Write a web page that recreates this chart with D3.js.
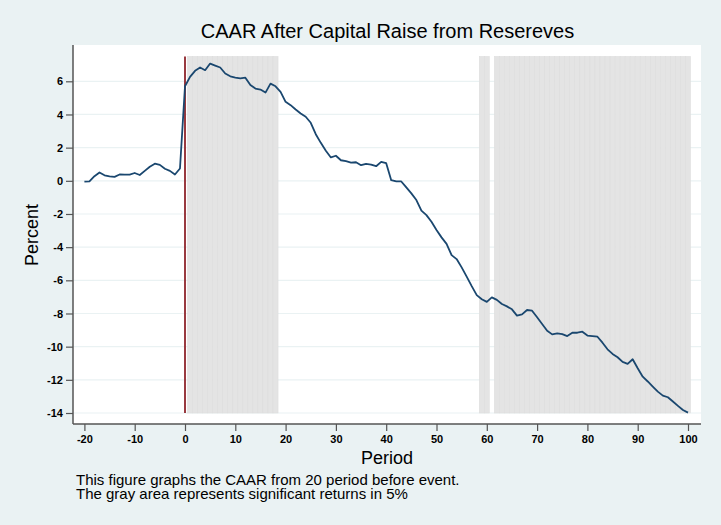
<!DOCTYPE html>
<html>
<head>
<meta charset="utf-8">
<script src="https://cdn.jsdelivr.net/npm/d3@7"></script>
<style>
  body { margin: 0; background: #eaf2f3; }
  text { font-family: Arial, "Liberation Sans", sans-serif; fill: #000; }
</style>
</head>
<body>
<div id="chart"></div>
<script>
// periods and CAAR values (percent)
var periods = d3.range(-20, 101);
var caar = [
  -0.05, -0.03, 0.28, 0.5, 0.33, 0.27, 0.24, 0.38, 0.37, 0.37,
  0.47, 0.35, 0.6, 0.85, 1.03, 0.96, 0.73, 0.6, 0.38, 0.74,
  5.7, 6.27, 6.63, 6.83, 6.67, 7.07, 6.95, 6.83, 6.47, 6.3,
  6.22, 6.18, 6.22, 5.78, 5.56, 5.5, 5.32, 5.86, 5.7, 5.36,
  4.76, 4.56, 4.3, 4.06, 3.86, 3.5, 2.81, 2.29, 1.81, 1.41,
  1.51, 1.24, 1.18, 1.1, 1.12, 0.94, 1.02, 0.98, 0.88, 1.14,
  1.06, 0.04, -0.04, -0.04, -0.4, -0.76, -1.16, -1.8, -2.07, -2.47,
  -2.97, -3.41, -3.8, -4.48, -4.72, -5.22, -5.78, -6.35, -6.89, -7.14,
  -7.3, -7.03, -7.18, -7.43, -7.57, -7.75, -8.13, -8.05, -7.79, -7.83,
  -8.23, -8.63, -9.04, -9.26, -9.2, -9.24, -9.36, -9.16, -9.16, -9.1,
  -9.33, -9.36, -9.4, -9.76, -10.16, -10.44, -10.64, -10.92, -11.04, -10.76,
  -11.3, -11.81, -12.1, -12.41, -12.71, -12.95, -13.05, -13.31, -13.57, -13.82,
  -13.98
];

// periods with significant returns (gray bars)
var sigPeriods = d3.range(1, 19).concat([59, 60]).concat(d3.range(62, 101));
var bandTop = 7.5;
var bandBottom = -14;
var eventPeriod = 0;

var xTicks = d3.range(-20, 101, 10);
var yTicks = d3.range(-14, 7, 2);

var titleText = "CAAR After Capital Raise from Resereves";
var noteLines = [
  "This figure graphs the CAAR from 20 period before event.",
  "The gray area represents significant returns in 5%"
];

// canvas
var svgWidth = 721;
var svgHeight = 525;

var svg = d3.select("#chart")
  .append("svg")
  .attr("width", svgWidth)
  .attr("height", svgHeight);

svg.append("rect")
  .attr("width", svgWidth)
  .attr("height", svgHeight)
  .attr("fill", "#eaf2f3");

// scales
var xScale = d3.scaleLinear().domain([-20, 100]).range([84.4, 688]);
var yScale = d3.scaleLinear().domain([-14, 6]).range([413, 81.3]);

var plot = { left: 73, right: 701, top: 45, bottom: 424 };

// plot region
svg.append("rect")
  .attr("x", plot.left)
  .attr("y", plot.top)
  .attr("width", plot.right - plot.left)
  .attr("height", plot.bottom - plot.top)
  .attr("fill", "#ffffff");

// grid lines
svg.append("g")
  .selectAll("line")
  .data(yTicks)
  .enter()
  .append("line")
  .attr("x1", plot.left)
  .attr("x2", plot.right)
  .attr("y1", d => yScale(d))
  .attr("y2", d => yScale(d))
  .attr("stroke", "#eaf2f3")
  .attr("stroke-width", 1.2);

// significance bars
svg.append("g")
  .selectAll("rect")
  .data(sigPeriods)
  .enter()
  .append("rect")
  .attr("x", d => xScale(d - 0.5))
  .attr("y", yScale(bandTop))
  .attr("width", xScale(1) - xScale(0))
  .attr("height", yScale(bandBottom) - yScale(bandTop))
  .attr("fill", "#e4e4e4")
  .attr("stroke", "#dcdcdc")
  .attr("stroke-width", 0.5);

// event line
svg.append("line")
  .attr("x1", xScale(eventPeriod))
  .attr("x2", xScale(eventPeriod))
  .attr("y1", yScale(bandTop))
  .attr("y2", yScale(bandBottom))
  .attr("stroke", "#993a40")
  .attr("stroke-width", 2);

// CAAR line
var line = d3.line()
  .x((d, i) => xScale(periods[i]))
  .y(d => yScale(d));

svg.append("path")
  .datum(caar)
  .attr("d", line)
  .attr("fill", "none")
  .attr("stroke", "#1a476f")
  .attr("stroke-width", 1.8)
  .attr("stroke-linejoin", "round");

// axes (plain hyphen minus like the original)
var leftAxis = d3.axisLeft(yScale)
  .tickValues(yTicks)
  .tickSize(7)
  .tickPadding(3)
  .tickFormat(d => String(d));

var bottomAxis = d3.axisBottom(xScale)
  .tickValues(xTicks)
  .tickSize(7)
  .tickPadding(4)
  .tickFormat(d => String(d));

var yAxis = svg.append("g")
  .attr("transform", `translate(${plot.left}, 0)`)
  .call(leftAxis);

var xAxis = svg.append("g")
  .attr("transform", `translate(0, ${plot.bottom})`)
  .call(bottomAxis);

[xAxis, yAxis].forEach(function (ax) {
  ax.select(".domain").remove();
  ax.selectAll(".tick line").attr("stroke", "#555").attr("stroke-width", 1.2);
  ax.selectAll(".tick text")
    .attr("font-size", "11px")
    .attr("font-family", "Arial, 'Liberation Sans', sans-serif")
    .style("font-weight", "bold")
    .attr("fill", "#111");
});

// axis lines
svg.append("line")
  .attr("x1", plot.left).attr("x2", plot.left)
  .attr("y1", plot.top).attr("y2", plot.bottom)
  .attr("stroke", "#555").attr("stroke-width", 1.5);
svg.append("line")
  .attr("x1", plot.left).attr("x2", plot.right)
  .attr("y1", plot.bottom).attr("y2", plot.bottom)
  .attr("stroke", "#555").attr("stroke-width", 1.5);

// title and labels
svg.append("text")
  .attr("x", 387.5)
  .attr("y", 38)
  .attr("text-anchor", "middle")
  .attr("font-size", "20px")
  .attr("fill", "#1e1e1e")
  .text(titleText);

svg.append("text")
  .attr("x", 387)
  .attr("y", 464)
  .attr("text-anchor", "middle")
  .attr("font-size", "18px")
  .text("Period");

svg.append("text")
  .attr("transform", "rotate(-90)")
  .attr("x", -235)
  .attr("y", 38)
  .attr("text-anchor", "middle")
  .attr("font-size", "18px")
  .text("Percent");

// notes
svg.append("g")
  .selectAll("text")
  .data(noteLines)
  .enter()
  .append("text")
  .attr("x", 76)
  .attr("y", (d, i) => 485 + i * 14)
  .attr("font-size", "15px")
  .text(d => d);
</script>
</body>
</html>
